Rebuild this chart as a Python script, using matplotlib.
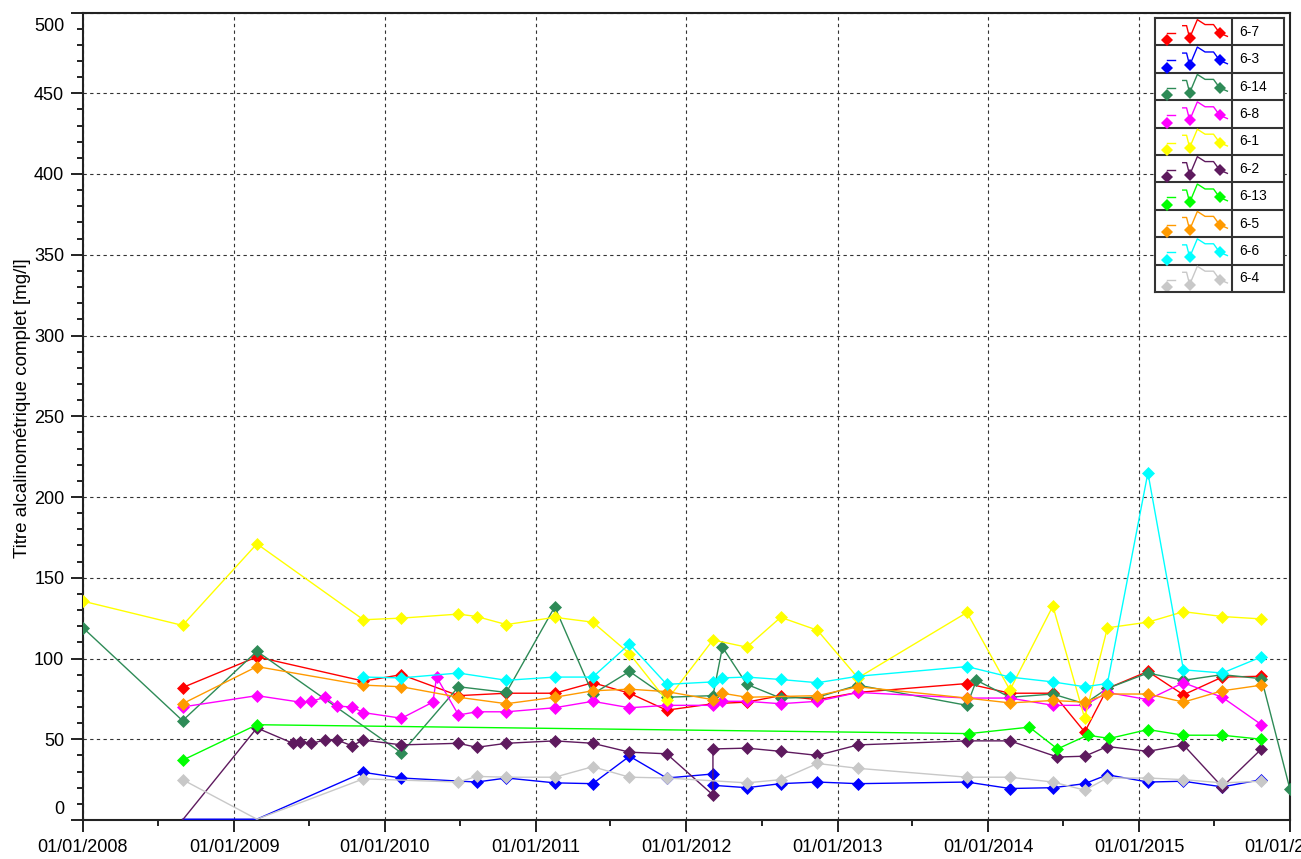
import pandas as pd
import matplotlib.pyplot as plt
import matplotlib.dates as mdates
from matplotlib.transforms import ScaledTranslation

plt.rcParams['font.family'] = ['Liberation Sans', 'DejaVu Sans']

# --- data ---
names = ['6-7', '6-3', '6-14', '6-8', '6-1', '6-2', '6-13', '6-5', '6-6', '6-4']
colors = ['#ff0000', '#0000ff', '#2e8b57', '#ff00ff', '#ffff00',
          '#5e1a5e', '#00ff00', '#ff9a00', '#00ffff', '#c8c8c8']

d_67 = ['2008-08-29', '2009-02-25', '2009-11-10', '2010-02-10', '2010-06-28', '2010-10-22',
        '2011-02-16', '2011-05-19', '2011-08-16', '2011-11-14', '2012-03-05', '2012-05-26',
        '2012-08-16', '2012-11-13', '2013-02-19', '2013-11-10', '2014-02-22', '2014-06-06',
        '2014-08-22', '2014-10-16', '2015-01-22', '2015-04-18', '2015-07-21', '2015-10-24']
v_67 = [82, 101, 86, 90, 77, 78.5, 78.5, 85, 78.5, 68, 72, 73,
        77, 74.5, 79, 84.5, 78.5, 78.5, 54.5, 81.5, 92, 77.5, 88.5, 89]

d_63 = ['2008-08-29', '2009-02-25', '2009-11-10', '2010-02-10', '2010-08-11', '2010-10-22',
        '2011-02-16', '2011-05-19', '2011-08-16', '2011-11-14', '2012-03-05', '2012-03-05',
        '2012-05-26', '2012-08-16', '2012-11-13', '2013-02-19', '2013-11-10', '2014-02-22',
        '2014-06-06', '2014-08-22', '2014-10-16', '2015-01-22', '2015-04-18', '2015-07-21',
        '2015-10-24']
v_63 = [0.5, 0.5, 29.5, 26, 23.5, 26, 23, 22.5, 39.5, 26, 28.5, 21.5,
        20, 22.5, 23.5, 22.5, 23.5, 19.5, 20, 22.5, 28, 23.5, 24, 20.5, 25]

d_614 = ['2008-01-01', '2008-08-29', '2009-02-25', '2010-02-10', '2010-06-28', '2010-10-22',
         '2011-02-16', '2011-05-19', '2011-08-16', '2011-11-14', '2012-03-05', '2012-03-28',
         '2012-05-26', '2012-08-16', '2012-11-13', '2013-02-19', '2013-11-10', '2013-12-03',
         '2014-02-22', '2014-06-06', '2014-08-22', '2014-10-16', '2015-01-22', '2015-04-18',
         '2015-07-21', '2015-10-24', '2016-01-01']
v_614 = [119, 61.5, 104.5, 41.5, 82.5, 79, 132, 78, 92, 76, 77, 107,
         84, 75.5, 76, 83.5, 71, 86.5, 76, 78, 72, 81.5, 91, 86.5,
         90, 87.5, 19]

d_68 = ['2008-08-29', '2009-02-25', '2009-06-09', '2009-07-07', '2009-08-09', '2009-09-07',
        '2009-10-13', '2009-11-10', '2010-02-10', '2010-04-27', '2010-05-06', '2010-06-28',
        '2010-08-11', '2010-10-22', '2011-02-16', '2011-05-19', '2011-08-16', '2011-11-14',
        '2012-03-05', '2012-03-28', '2012-05-26', '2012-08-16', '2012-11-13', '2013-02-19',
        '2013-11-10', '2014-02-22', '2014-06-06', '2014-08-22', '2014-10-16', '2015-01-22',
        '2015-04-18', '2015-07-21', '2015-10-24']
v_68 = [70, 77, 73, 73.5, 76, 70.5, 70, 66.5, 63, 73, 88.5, 65,
        67, 67, 69.5, 73.5, 69.5, 71, 71, 73.5, 73.5, 72, 73.5, 79,
        75.5, 75.5, 71, 71, 79, 74.5, 85, 76, 59]

d_61 = ['2008-01-01', '2008-08-29', '2009-02-25', '2009-11-10', '2010-02-10', '2010-06-28',
        '2010-08-11', '2010-10-22', '2011-02-16', '2011-05-19', '2011-08-16', '2011-11-14',
        '2012-03-05', '2012-05-26', '2012-08-16', '2012-11-13', '2013-02-19', '2013-11-10',
        '2014-02-22', '2014-06-06', '2014-08-22', '2014-10-16', '2015-01-22', '2015-04-18',
        '2015-07-21', '2015-10-24']
v_61 = [135.5, 120.5, 171, 124, 125, 127.5, 126, 121, 125.5, 122.5, 103, 74,
        111.5, 107, 125.5, 117.5, 88, 128.5, 80.5, 132.5, 63, 119, 122.5, 129,
        126, 124.5]

d_62 = ['2008-08-29', '2009-02-25', '2009-05-23', '2009-06-09', '2009-07-07', '2009-08-09',
        '2009-09-07', '2009-10-13', '2009-11-10', '2010-02-10', '2010-06-28', '2010-08-11',
        '2010-10-22', '2011-02-16', '2011-05-19', '2011-08-16', '2011-11-14', '2012-03-05',
        '2012-03-05', '2012-05-26', '2012-08-16', '2012-11-13', '2013-02-19', '2013-11-10',
        '2014-02-22', '2014-06-17', '2014-08-22', '2014-10-16', '2015-01-22', '2015-04-18',
        '2015-07-21', '2015-10-24']
v_62 = [0, 57, 47.5, 48.5, 47.5, 49.5, 49.5, 46, 49.5, 46.5, 47.5, 45,
        47.5, 49, 47.5, 42, 41, 15.5, 44, 44.5, 42.5, 40, 46.5, 49,
        49, 39, 39.5, 45.5, 42.5, 46.5, 20.5, 44]

d_613 = ['2008-08-29', '2009-02-25', '2013-11-16', '2014-04-10', '2014-06-17', '2014-08-29',
         '2014-10-21', '2015-01-22', '2015-04-18', '2015-07-21', '2015-10-24']
v_613 = [37, 59, 53.5, 57.5, 44, 52.5, 50.5, 56, 52.5, 52.5, 50]

d_65 = ['2008-08-29', '2009-02-25', '2009-11-10', '2010-02-10', '2010-06-28', '2010-10-22',
        '2011-02-16', '2011-05-19', '2011-08-16', '2011-11-14', '2012-03-05', '2012-03-28',
        '2012-05-26', '2012-11-13', '2013-02-19', '2013-11-10', '2014-02-22', '2014-06-06',
        '2014-08-22', '2014-10-16', '2015-01-22', '2015-04-18', '2015-07-21', '2015-10-24']
v_65 = [72, 95, 83.5, 82.5, 76, 72, 76, 80, 81, 79.5, 74.5, 78.5,
        76, 77, 82.5, 75.5, 72.5, 74, 73, 78, 78, 73, 80, 83.5]

d_66 = ['2009-11-10', '2010-02-10', '2010-06-28', '2010-10-22', '2011-02-16', '2011-05-19',
        '2011-08-16', '2011-11-14', '2012-03-05', '2012-03-28', '2012-05-26', '2012-08-16',
        '2012-11-13', '2013-02-19', '2013-11-10', '2014-02-22', '2014-06-06', '2014-08-22',
        '2014-10-16', '2015-01-22', '2015-04-18', '2015-07-21', '2015-10-24']
v_66 = [88.5, 88, 91, 86.5, 88.5, 88.5, 109, 84, 85.5, 88, 88.5, 87,
        85, 89, 95, 88.5, 85.5, 82.5, 84.5, 215, 93, 91, 101]

d_64 = ['2008-08-29', '2009-02-25', '2009-11-10', '2010-06-28', '2010-08-11', '2010-10-22',
        '2011-02-16', '2011-05-19', '2011-08-16', '2011-11-14', '2012-05-26', '2012-08-16',
        '2012-11-13', '2013-02-19', '2013-11-10', '2014-02-22', '2014-06-06', '2014-08-22',
        '2014-10-16', '2015-01-22', '2015-04-18', '2015-07-21', '2015-10-24']
v_64 = [25, 0.5, 25.5, 23.5, 27, 26.5, 26.5, 33, 26.5, 26, 23, 25,
        35, 32, 26.5, 26.5, 23.5, 18.5, 26, 26, 25, 23, 24]

all_dates = [d_67, d_63, d_614, d_68, d_61, d_62, d_613, d_65, d_66, d_64]
all_vals = [v_67, v_63, v_614, v_68, v_61, v_62, v_613, v_65, v_66, v_64]

y_ticks = list(range(0, 501, 50))
x_years = list(range(2008, 2017))

fig = plt.figure(figsize=(13.01, 8.59), dpi=100)
ax = fig.add_axes([83/1301, 39/859, 1207/1301, 807.5/859])

for name, col, d, v in zip(names, colors, all_dates, all_vals):
    # points lying on the x axis show no marker in the original
    marked = [i for i, val in enumerate(v) if val > 1]
    ax.plot(pd.to_datetime(d), v, color=col, lw=1.0, marker='D', ms=6.5,
            mec=col, mew=0.5, markevery=marked, label=name, zorder=3)

ax.set_ylim(0, 500)
ax.set_xlim(pd.Timestamp('2008-01-01'), pd.Timestamp('2016-01-01'))
ax.set_yticks(y_ticks)
ax.set_yticks(range(0, 501, 10), minor=True)
xt = [pd.Timestamp(f'{y}-01-01') for y in x_years]
ax.set_xticks(xt)
ax.set_xticks([pd.Timestamp(f'{y}-07-01') for y in x_years[:-1]], minor=True)
ax.xaxis.set_major_formatter(mdates.DateFormatter('%d/%m/%Y'))

ax.tick_params(which='major', direction='out', length=8.5, width=1.4,
               labelsize=13, pad=5, color='#222222')
ax.tick_params(which='minor', direction='out', length=4.3, width=1.4, color='#222222')
for s in ax.spines.values():
    s.set_linewidth(1.5)
    s.set_color('#222222')

ax.grid(True, which='major', color='#333333', ls=(0, (3, 3)), lw=0.8, zorder=1)
ax.set_axisbelow(True)

ax.set_ylabel('Titre alcalinométrique complet [mg/l]', fontsize=13.5)
ax.yaxis.set_label_coords(-0.043, 0.51)

# edge labels are pulled inwards like in the original
yt = ax.yaxis.get_major_ticks()
yt[0].label1.set_transform(yt[0].label1.get_transform()
                           + ScaledTranslation(0, 12/100, fig.dpi_scale_trans))
yt[-1].label1.set_transform(yt[-1].label1.get_transform()
                            + ScaledTranslation(0, -12/100, fig.dpi_scale_trans))

# --- boxed legend table ---
lax = fig.add_axes([1155/1301, (859-292)/859, 129/1301, 274/859])
lax.set_xlim(0, 129)
lax.set_ylim(10, 0)
lax.set_xticks([])
lax.set_yticks([])
for s in lax.spines.values():
    s.set_linewidth(1.5)
    s.set_color('#333333')
for i in range(1, 10):
    lax.axhline(i, color='#333333', lw=1.5)
lax.axvline(77, color='#333333', lw=1.5)

zig_u = [0.36, 0.41, 0.45, 0.55, 0.65, 0.76, 0.84, 0.94]
zig_v = [0.28, 0.28, 0.73, 0.06, 0.24, 0.24, 0.55, 0.67]
for i, (name, col) in enumerate(zip(names, colors)):
    lax.plot([0.15*77, 0.26*77], [i+0.55, i+0.55], color=col, lw=1.0)
    lax.plot([u*77 for u in zig_u], [i+v for v in zig_v], color=col, lw=1.0)
    lax.plot([0.16*77, 0.45*77, 0.84*77], [i+0.82, i+0.73, i+0.55], ls='none',
             marker='D', ms=6, color=col, mew=0)
    lax.text(84, i+0.5, name, fontsize=10, va='center', ha='left')

fig.savefig('out.png', dpi=100)
